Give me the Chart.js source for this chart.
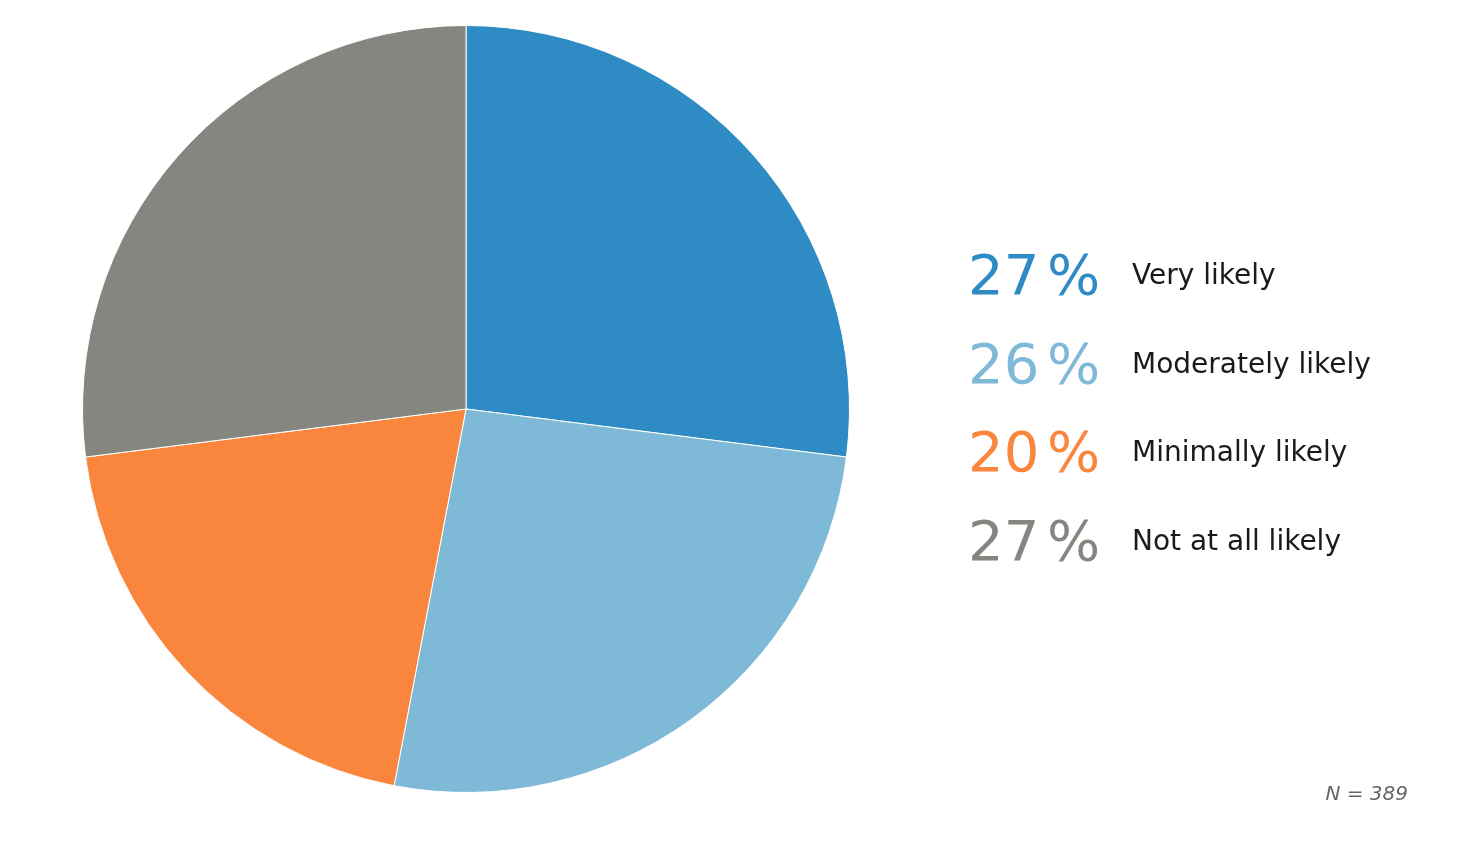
<!DOCTYPE html>
<html>
<head>
<meta charset="utf-8">
<script src="https://cdn.jsdelivr.net/npm/chart.js@4"></script>
<style>
html,body{margin:0;padding:0;background:#fff;}
#wrap{position:relative;width:1462px;height:848px;}
</style>
</head>
<body>
<div id="wrap"><canvas id="c" width="1462" height="848"></canvas></div>
<script>
const categories = ["Very likely", "Moderately likely", "Minimally likely", "Not at all likely"];
const values = [27, 26, 20, 27];
const colors = ["#2e8bc3", "#7fb9d8", "#fa863e", "#868680"];
const note = "N = 389";

const legendPlugin = {
  id: 'customLegend',
  afterDraw(chart) {
    const ctx = chart.ctx;
    ctx.save();
    const rowsY = [279, 368, 456, 545];
    categories.forEach((cat, i) => {
      const y = rowsY[i];
      ctx.textBaseline = 'middle';
      ctx.textAlign = 'left';
      ctx.fillStyle = colors[i];
      ctx.font = '56px "DejaVu Sans"';
      ctx.fillText(String(values[i]), 968, y);
      ctx.fillText('%', 1047, y);
      ctx.fillStyle = '#1a1a1a';
      ctx.font = '28px "DejaVu Sans"';
      ctx.fillText(cat, 1132, y - 2);
    });
    ctx.fillStyle = '#666';
    ctx.font = 'italic 20px "DejaVu Sans"';
    ctx.textAlign = 'right';
    ctx.fillText(note, 1408, 795);
    ctx.restore();
  }
};

new Chart(document.getElementById('c'), {
  type: 'pie',
  data: {
    labels: categories,
    datasets: [{
      data: values,
      backgroundColor: colors,
      borderColor: '#ffffff',
      borderWidth: 1
    }]
  },
  options: {
    responsive: false,
    animation: false,
    layout: { padding: { left: 82, top: 25, right: 612, bottom: 55 } },
    plugins: { legend: { display: false }, tooltip: { enabled: false } }
  },
  plugins: [legendPlugin]
});
</script>
</body>
</html>
